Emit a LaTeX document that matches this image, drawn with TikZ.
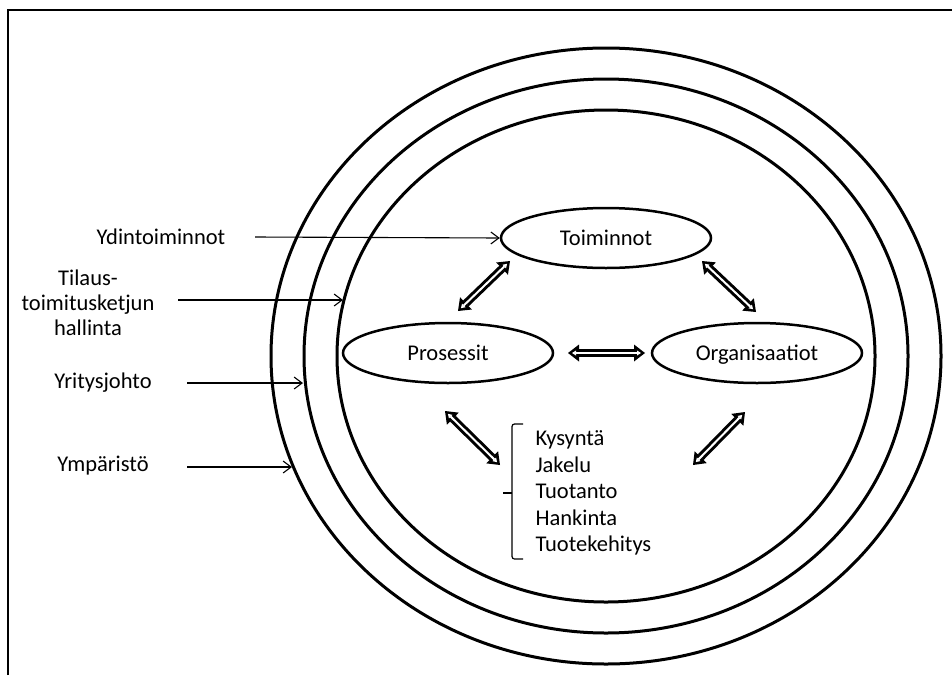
\documentclass[tikz,border=0pt]{standalone}
\usepackage{fontspec}
\setmainfont{Carlito}
\usetikzlibrary{arrows.meta,shapes.geometric}
\begin{document}
\begin{tikzpicture}[x=1pt,y=-1pt,
  every node/.style={font=\fontsize{22.5}{25}\selectfont},
  ring/.style={draw, line width=3pt},
  oval/.style={draw, ellipse, line width=2.5pt, minimum width=210pt, minimum height=60pt,
    inner sep=0pt, text height=14pt, text depth=0pt},
  pointer/.style={line width=1.1pt, -{Straight Barb[length=8pt,width=12pt,line width=1.1pt]}},
  bigarrow/.style={line width=8pt,
    {Triangle[length=11pt,width=17pt,line width=0pt]}-{Triangle[length=11pt,width=17pt,line width=0pt]},
    postaction={draw=white, line width=2pt, shorten <=4pt, shorten >=4pt,
      {Triangle[length=4pt,width=5pt,line width=0pt]}-{Triangle[length=4pt,width=5pt,line width=0pt]}}},
  bracket/.style={draw, line width=1.2pt, rounded corners=2.5pt}
]
\useasboundingbox (0,0) rectangle (952,675);

% frame
\draw[line width=2pt] (8,675) -- (8,10) -- (952,10);

% nested rings
\draw[ring] (606,356) ellipse [x radius=335, y radius=308];
\draw[ring] (606,356) ellipse [x radius=302, y radius=277];
\draw[ring] (606,356) ellipse [x radius=269, y radius=246];

% core elements
\node[oval] (toim) at (606,238) {Toiminnot};
\node[oval] (pros) at (448,353) {Prosessit};
\node[oval] (org)  at (757,353) {Organisaatiot};

% process list with bracket
\node[align=left, anchor=west, font=\fontsize{22.5}{26.5}\selectfont] (list) at (532,493)
  {Kysyntä\\Jakelu\\Tuotanto\\Hankinta\\Tuotekehitys};
\draw[bracket] (523,424) -- (512,424) -- (512,559) -- (523,559);
\draw[line width=1.2pt] (503,493) -- (512,493);

% two-way block arrows
\coordinate (a1s) at (458,311); \coordinate (a1e) at (510,261);
\coordinate (a2s) at (702,261); \coordinate (a2e) at (756,312);
\coordinate (a3s) at (568,353); \coordinate (a3e) at (645,353);
\coordinate (a4s) at (445,411); \coordinate (a4e) at (500,465);
\coordinate (a5s) at (745,412); \coordinate (a5e) at (693,465);
\draw[bigarrow] (a1s) -- (a1e);
\draw[bigarrow] (a2s) -- (a2e);
\draw[bigarrow] (a3s) -- (a3e);
\draw[bigarrow] (a4s) -- (a4e);
\draw[bigarrow] (a5s) -- (a5e);

% level labels
\node (ydin) at (161,237) {Ydintoiminnot};
\node[align=center] (scm) at (88,303) {Tilaus-\\toimitusketjun\\hallinta};
\node (yjoh) at (103,383) {Yritysjohto};
\node (ymp)  at (103,466) {Ympäristö};

\coordinate (p1) at (255,237);
\coordinate (p2s) at (178,300); \coordinate (p2e) at (343,300);
\coordinate (p3s) at (187,383); \coordinate (p3e) at (303,383);
\coordinate (p4s) at (187,467); \coordinate (p4e) at (292,467);
\draw[pointer] (p1) -- (toim.west);
\draw[pointer] (p2s) -- (p2e);
\draw[pointer] (p3s) -- (p3e);
\draw[pointer] (p4s) -- (p4e);
\end{tikzpicture}
\end{document}
